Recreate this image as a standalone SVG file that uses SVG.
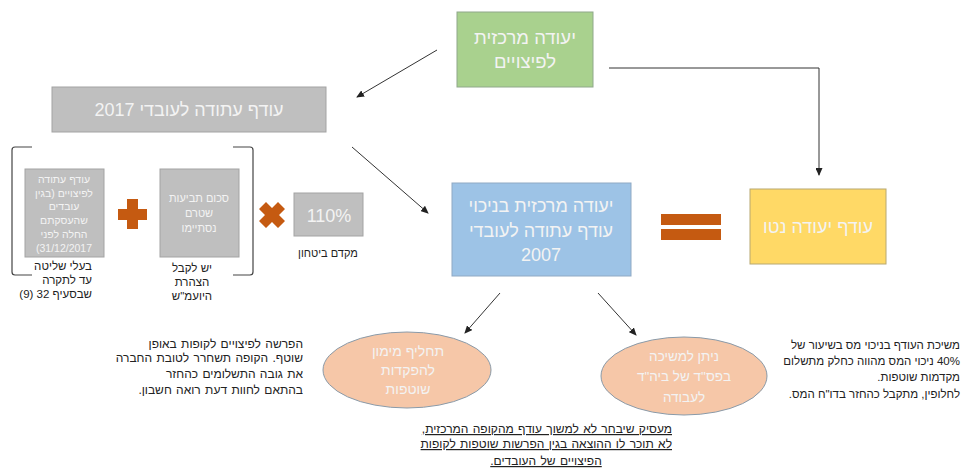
<svg xmlns="http://www.w3.org/2000/svg" width="974" height="469" viewBox="0 0 974 469">
<style>
text{font-family:"Liberation Sans",Arial,sans-serif;direction:rtl;unicode-bidi:plaintext}
.w{fill:#f3f3f3;text-anchor:middle}
.k{fill:#222;font-size:12px;word-spacing:1px}
.s{font-size:11.5px;word-spacing:0}
.m{text-anchor:middle}
.g{fill:#bfbfbf;stroke:#a3a3a3;stroke-width:1}
.c{fill:none;stroke:#333;stroke-width:1}
.b{fill:none;stroke:#444;stroke-width:1.2}
.o{fill:#c55a11}
.e{fill:#f6c7a8;stroke:#8a9aa8;stroke-width:1}
</style>
<defs><marker id="a" markerWidth="8" markerHeight="7" refX="7" refY="3.500" orient="auto" markerUnits="userSpaceOnUse"><path d="M0 0L8 3.500L0 7z" fill="#222"/></marker></defs>
<g id="connectors">
<path class="c" marker-end="url(#a)" d="M437 50L357 97"/>
<path class="c" marker-end="url(#a)" d="M352 147L428 213"/>
<path class="c" marker-end="url(#a)" d="M500 293L465 333"/>
<path class="c" marker-end="url(#a)" d="M598 293L636 335"/>
<path class="c" marker-end="url(#a)" d="M609 68H819V175"/>
</g>
<g id="green"><rect x="457" y="12" width="136" height="75" fill="#a9d18e" stroke="#8fa88a"/><text class="w" font-size="18.500" x="525" y="44">יעודה מרכזית</text><text class="w" font-size="18.500" x="525" y="68">לפיצויים</text></g>
<g id="top-gray"><rect class="g" x="52" y="87" width="274" height="45"/><text class="w" font-size="18" x="189" y="116">עודף עתודה לעובדי 2017</text></g>
<g id="brackets"><path class="b" d="M32 147H15Q12 147 12 150V272Q12 275 15 275H32"/><path class="b" d="M233 147H250Q253 147 253 150V272Q253 275 250 275H233"/></g>
<g id="box-left"><rect class="g" x="25" y="169" width="79" height="88"/>
<text class="w" font-size="10.500" x="64" y="183">עודף עתודה</text><text class="w" font-size="10.500" x="64" y="197">לפיצויים (בגין</text><text class="w" font-size="10.500" x="64" y="210">עובדים</text><text class="w" font-size="10.500" x="64" y="224">שהעסקתם</text><text class="w" font-size="10.500" x="64" y="238">החלה לפני</text><text class="w" font-size="10.500" x="64" y="252" style="direction:ltr">(31/12/2017</text></g>
<g id="box-mid"><rect class="g" x="160" y="169" width="79" height="88"/><text class="w" font-size="11" x="199" y="202">סכום תביעות</text><text class="w" font-size="11" x="199" y="217">שטרם</text><text class="w" font-size="11" x="199" y="232">נסתיימו</text></g>
<g id="plus"><path class="o" d="M127 199H138V209H147V220H138V229H127V220H118V209H127z"/></g>
<g id="times"><path class="o" d="M266 202L272 208L278 202L285 209L279 215L285 221L278 228L272 222L266 228L259 221L265 215L259 209z"/></g>
<g id="pct"><rect class="g" x="294" y="193" width="69" height="43"/><text class="w" font-size="18" x="329" y="222">110%</text></g>
<text class="k m s" font-size="11" style="font-size:11px" x="328" y="257">מקדם ביטחון</text>
<text class="k s" x="92" y="270">בעלי שליטה</text><text class="k s" x="92" y="284">עד לתקרה</text><text class="k s" x="92" y="298">שבסעיף 32 (9)</text>
<text class="k m s" x="192" y="272">יש לקבל</text><text class="k m s" x="192" y="286">הצהרת</text><text class="k m s" x="192" y="300">היועמ"ש</text>
<g id="blue"><rect x="452" y="183" width="179" height="93" fill="#9dc3e6" stroke="#8fa9c4"/><text class="w" font-size="18" x="541" y="212">יעודה מרכזית בניכוי</text><text class="w" font-size="18" x="541" y="237">עודף עתודה לעובדי</text><text class="w" font-size="18" x="541" y="261">2007</text></g>
<g id="equals"><rect class="o" x="661" y="214" width="60" height="11"/><rect class="o" x="661" y="229" width="60" height="11"/></g>
<g id="yellow"><rect x="750" y="189" width="136" height="75" fill="#ffd966" stroke="#b8a870"/><text class="w" font-size="18" x="818" y="233">עודף יעודה נטו</text></g>
<g id="ellipse-left"><ellipse class="e" cx="407" cy="370" rx="84" ry="38"/><text class="w" font-size="14" x="408" y="356">תחליף מימון</text><text class="w" font-size="14" x="408" y="375">להפקדות</text><text class="w" font-size="14" x="408" y="394">שוטפות</text></g>
<g id="ellipse-right"><ellipse class="e" cx="684" cy="376" rx="83" ry="39"/><text class="w" font-size="13.500" x="684" y="361">ניתן למשיכה</text><text class="w" font-size="13.500" x="684" y="381">בפס"ד של ביה"ד</text><text class="w" font-size="13.500" x="684" y="402">לעבודה</text></g>
<g id="note-left"><text class="k" x="303" y="348">הפרשה לפיצויים לקופות באופן</text><text class="k" x="303" y="362">שוטף. הקופה תשחרר לטובת החברה</text><text class="k" x="303" y="378">את גובה התשלומים כהחזר</text><text class="k" x="303" y="394">בהתאם לחוות דעת רואה חשבון.</text></g>
<g id="note-right"><text class="k s" x="960" y="349">משיכת העודף בניכוי מס בשיעור של</text><text class="k s" x="960" y="365">40% ניכוי המס מהווה כחלק מתשלום</text><text class="k s" x="960" y="381">מקדמות שוטפות.</text><text class="k s" x="960" y="398">לחלופין, מתקבל כהחזר בדו"ח המס.</text></g>
<g id="note-bottom"><text class="k" x="672" y="433" text-decoration="underline">מעסיק שיבחר לא למשוך עודף מהקופה המרכזית,</text><text class="k" x="672" y="448" text-decoration="underline">לא תוכר לו ההוצאה בגין הפרשות שוטפות לקופות</text><text class="k m" x="546" y="465" text-decoration="underline">הפיצויים של העובדים.</text></g>
</svg>
